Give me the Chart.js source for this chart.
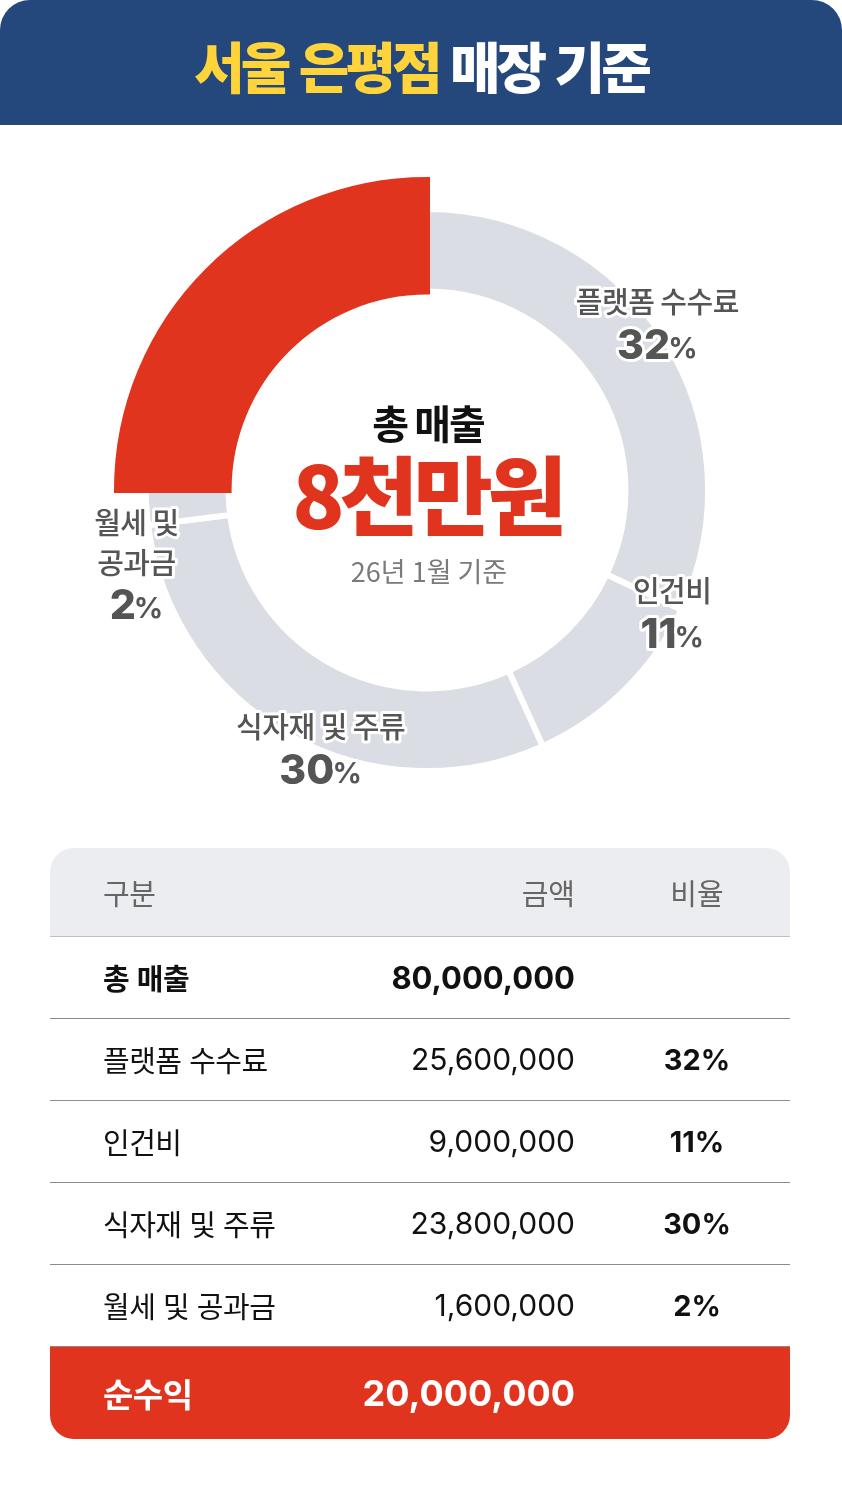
<!DOCTYPE html>
<html lang="ko">
<head>
<meta charset="utf-8">
<script src="https://cdn.jsdelivr.net/npm/chart.js@4.4.1/dist/chart.umd.min.js"></script>
<style>
  body { margin: 0; width: 842px; height: 1499px; background: #fff; position: relative; overflow: hidden;
         font-family: "Inter", "Noto Sans CJK KR", sans-serif; }
  .head { position: absolute; left: 0; top: 0; width: 842px; height: 125px; background: #24487c;
          border-radius: 30px 30px 0 0; text-align: center; }
  .head h1 { margin: 0; line-height: 128px; font-family: "Noto Sans CJK KR", sans-serif; font-weight: 900;
             font-size: 55px; letter-spacing: -4px; color: #fff; }
  .head h1 span { color: #ffd43a; }
  #wrap { position: absolute; left: 0; top: 130px; width: 842px; height: 720px; }
  .tbl { position: absolute; left: 50px; top: 848px; width: 740px; }
  .row { position: relative; height: 81px; border-bottom: 1px solid #8c8c8c; font-size: 29px; color: #111; }
  .row div { position: absolute; top: 0; line-height: 81px; }
  .row .c1 { left: 53px; font-family: "Noto Sans CJK KR", sans-serif; letter-spacing: -0.5px; }
  .row .c2 { right: 215px; font-size: 30px; }
  .row .c3 { left: 597px; width: 100px; text-align: center; font-weight: 700; }
  .row.hd { height: 88px; background: #ecedf1; border-radius: 24px 24px 0 0; border-bottom-color: #bdbdbd; color: #666; }
  .row.hd div { line-height: 88px; font-family: "Noto Sans CJK KR", sans-serif; font-weight: 400; font-size: 29px; }
  .row.bold div { font-weight: 700; }
  .row.bold .c2 { font-size: 31px; }
  .row.net { height: 92px; background: #e1341e; border: 0; border-radius: 0 0 24px 24px; color: #fff; }
  .row.net div { line-height: 92px; font-weight: 700; }
  .row.net .c1 { font-size: 33px; }
  .row.net .c2 { font-size: 36px; }
</style>
</head>
<body>
<div class="head"><h1><span>서울 은평점</span> 매장 기준</h1></div>
<div id="wrap"><canvas id="donut" width="842" height="720"></canvas></div>
<div class="tbl" id="tbl"></div>

<script>
// data
const categories = ['플랫폼 수수료', '인건비', '식자재 및 주류', '월세 및 공과금', '순수익'];
const amounts = [25600000, 9000000, 23800000, 1600000, 20000000];
const shares = [32, 11, 30, 2];
const labelLines = [['플랫폼 수수료'], ['인건비'], ['식자재 및 주류'], ['월세 및', '공과금']];
const totalSales = 80000000;
const totalLabel = '총 매출';
const totalText = '8천만원';
const baseDate = '26년 1월 기준';
const tableHead = ['구분', '금액', '비율'];

const RED = '#e1341e';
const GRAY = '#dadde4';

/* Table */
const tbl = document.getElementById('tbl');
function addRow(cls, a, b, c) {
    const r = document.createElement('div');
    r.className = 'row ' + cls;
    r.innerHTML = '<div class="c1">' + a + '</div><div class="c2">' + b + '</div><div class="c3">' + c + '</div>';
    tbl.appendChild(r);
}
addRow('hd', tableHead[0], tableHead[1], tableHead[2]);
addRow('bold', totalLabel, totalSales.toLocaleString('en-US'), '');
for (let i = 0; i < shares.length; i++) {
    addRow('', categories[i], amounts[i].toLocaleString('en-US'), shares[i] + '%');
}
addRow('net', categories[4], amounts[4].toLocaleString('en-US'), '');

/* where each name sits next to its slice (px from the outer edge mid point) */
const labelNudge = [[-7, -14], [48, -76], [31, 15], [-10, 58]];

const sliceLabels = {
    id: 'sliceLabels',
    afterDatasetsDraw(chart) {
        const ctx = chart.ctx;
        const meta = chart.getDatasetMeta(1);
        ctx.save();
        ctx.textAlign = 'center';
        ctx.textBaseline = 'middle';
        ctx.lineJoin = 'round';
        ctx.strokeStyle = '#fff';
        ctx.lineWidth = 6;
        ctx.fillStyle = '#555';
        for (let i = 0; i < shares.length; i++) {
            const el = meta.data[i];
            const a = (el.startAngle + el.endAngle) / 2;
            const cx = el.x + Math.cos(a) * el.outerRadius + labelNudge[i][0];
            const cy = el.y + Math.sin(a) * el.outerRadius + labelNudge[i][1];
            const lines = labelLines[i];
            const total = lines.length * 40 + 46;
            let y = cy - total / 2 + 20;
            ctx.font = '500 29px "Noto Sans CJK KR"';
            ctx.letterSpacing = '-0.5px';
            for (const t of lines) {
                ctx.strokeText(t, cx, y);
                ctx.fillText(t, cx, y);
                y += 40;
            }
            ctx.letterSpacing = '0px';
            // number + smaller percent sign
            y += 4;
            const num = String(shares[i]);
            ctx.font = '800 41px Inter';
            const wn = ctx.measureText(num).width;
            ctx.font = '700 29px Inter';
            const wp = ctx.measureText('%').width;
            const x0 = cx - (wn + wp - 2) / 2;
            ctx.textAlign = 'left';
            ctx.font = '800 41px Inter';
            ctx.strokeText(num, x0, y);
            ctx.fillText(num, x0, y);
            ctx.font = '700 29px Inter';
            ctx.strokeText('%', x0 + wn - 2, y + 3);
            ctx.fillText('%', x0 + wn - 2, y + 3);
            ctx.textAlign = 'center';
        }
        ctx.restore();
    }
};

const centerText = {
    id: 'centerText',
    afterDatasetsDraw(chart) {
        const ctx = chart.ctx;
        const el = chart.getDatasetMeta(1).data[0];
        ctx.save();
        ctx.textAlign = 'center';
        ctx.textBaseline = 'middle';
        ctx.fillStyle = '#111';
        ctx.font = '700 40px "Noto Sans CJK KR"';
        ctx.letterSpacing = '-2px';
        ctx.fillText(totalLabel, el.x + 1, el.y - 66);
        ctx.fillStyle = RED;
        ctx.font = '900 86px "Noto Sans CJK KR"';
        ctx.letterSpacing = '-5px';
        ctx.fillText(totalText, el.x, el.y + 6);
        ctx.fillStyle = '#7a7a7a';
        ctx.font = '400 27px "Noto Sans CJK KR"';
        ctx.letterSpacing = '0px';
        ctx.fillText(baseDate, el.x + 2, el.y + 82);
        ctx.restore();
    }
};

/* Graph */
const ctx = document.getElementById('donut').getContext('2d');
const outerColors = amounts.map((v, i) => i === 4 ? RED : 'rgba(0,0,0,0)');
const innerColors = amounts.map((v, i) => i === 4 ? RED : GRAY);

const myChart = new Chart(ctx, {
    type: 'doughnut',
    data: {
        labels: categories,
        datasets: [{
            data: amounts,
            backgroundColor: outerColors,
            borderColor: outerColors,
            borderWidth: amounts.map((v, i) => i === 4 ? 6 : 0),
            borderJoinStyle: 'miter',
            weight: 29
        }, {
            data: amounts,
            backgroundColor: innerColors,
            borderColor: amounts.map((v, i) => i === 4 ? RED : '#fff'),
            borderWidth: 6,
            borderJoinStyle: 'miter',
            weight: 83
        }]
    },
    options: {
        responsive: false,
        animation: false,
        events: [],
        cutout: '64%',
        layout: { padding: { left: 114, right: 102, top: 47, bottom: 47 } },
        plugins: {
            legend: { display: false },
            tooltip: { enabled: false }
        }
    },
    plugins: [sliceLabels, centerText]
});
</script>
</body>
</html>
